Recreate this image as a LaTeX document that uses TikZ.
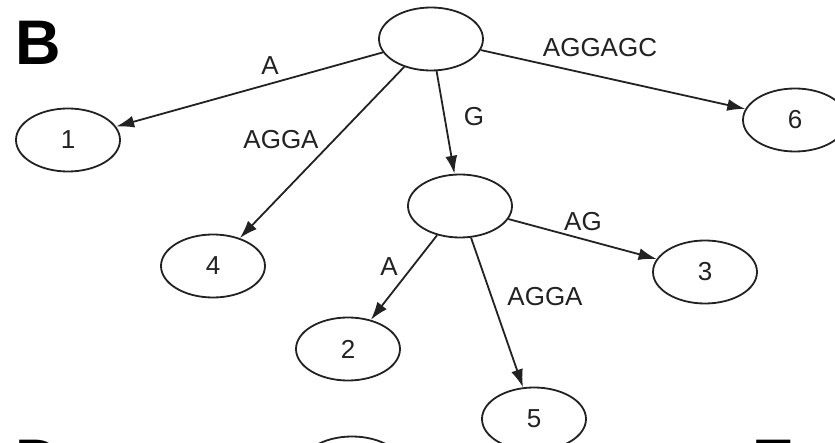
\documentclass[tikz,border=0pt]{standalone}
\usepackage{fontspec}
\setmainfont{Liberation Sans}
\usetikzlibrary{shapes.geometric,arrows.meta}
\definecolor{ink}{HTML}{222222}
\tikzset{
  treenode/.style={draw=ink, ellipse, line width=1.8pt, minimum width=104pt, minimum height=63pt, inner sep=0pt, font=\fontsize{26}{26}\selectfont, text=ink},
  edgelab/.style={font=\fontsize{26}{26}\selectfont, text=ink, inner sep=0pt},
  panel/.style={font=\fontsize{63}{63}\selectfont\bfseries, text=black, inner sep=0pt, anchor=base west},
  treeedge/.style={draw=ink, line width=1.8pt, -{Latex[length=18pt,width=12pt]}}
}
\begin{document}
\begin{tikzpicture}[x=1pt,y=-1pt]
\useasboundingbox (0,0) rectangle (835,443);
\clip (0,0) rectangle (835,443);
\fill[white] (0,0) rectangle (835,443);
\node[panel] (B) at (15,65) {B};
\node[panel] (D) at (15,483) {D};
\node[panel] (E) at (752,483) {E};

\node[treenode] (root) at (431,39) {};
\node[treenode] (n1) at (68,140) {1};
\node[treenode] (n6) at (795,120) {6};
\node[treenode] (n4) at (213,266) {4};
\node[treenode] (mid) at (460,206) {};
\node[treenode] (n3) at (705,272) {3};
\node[treenode] (n2) at (348,349) {2};
\node[treenode] (n5) at (534,419) {5};
\node[treenode] (nx) at (352,468) {};

\draw[treeedge] (root) -- (n1);
\draw[treeedge] (root) -- (n4);
\draw[treeedge] (root) -- (mid);
\draw[treeedge] (root) -- (n6);
\draw[treeedge] (mid) -- (n2);
\draw[treeedge] (mid) -- (n5);
\draw[treeedge] (mid) -- (n3);

\node[edgelab] (l1) at (270,66) {A};
\node[edgelab] (l4) at (281,140) {AGGA};
\node[edgelab] (lg) at (474,117) {G};
\node[edgelab] (l6) at (600,48) {AGGAGC};
\node[edgelab] (l3) at (583,222) {AG};
\node[edgelab] (l5) at (545,297) {AGGA};
\node[edgelab] (l2) at (389,267) {A};
\end{tikzpicture}
\end{document}
